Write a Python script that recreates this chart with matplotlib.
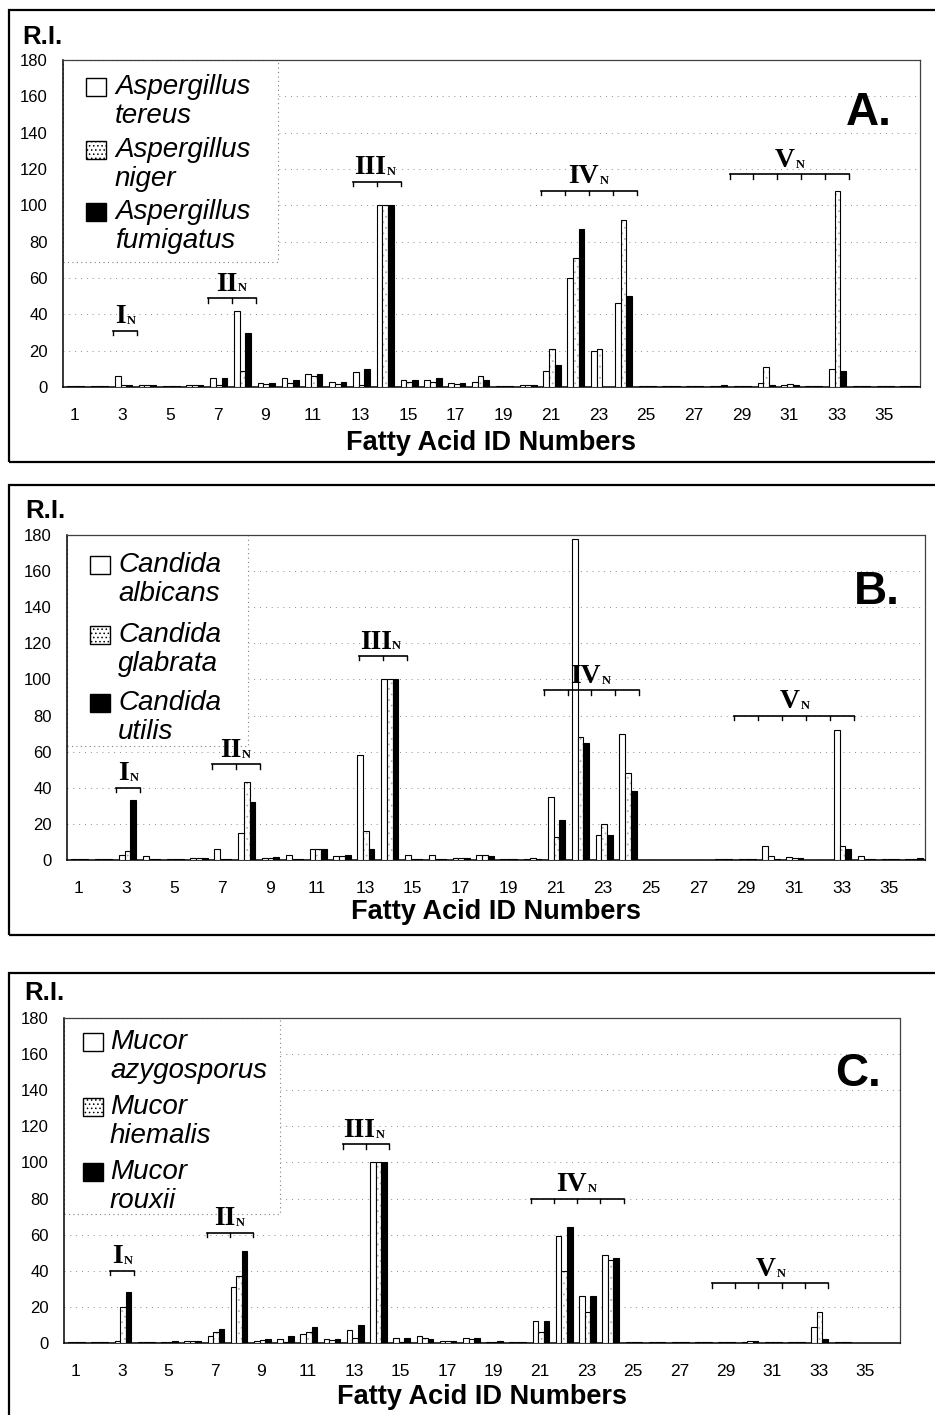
import numpy as np
import matplotlib
matplotlib.use("Agg")
import matplotlib.pyplot as plt
from matplotlib.patches import Rectangle

plt.rcParams["font.family"] = ["Liberation Sans", "DejaVu Sans"]
plt.rcParams["hatch.linewidth"] = 0.6

# ---------------------------------------
# Data (relative intensity per fatty acid ID)
# ---------------------------------------
fa_ids = list(range(1, 37))
xtick_labels = [str(i) for i in range(1, 36, 2)]
y_ticks = list(range(0, 181, 20))

a_names = ["Aspergillus\ntereus", "Aspergillus\nniger", "Aspergillus\nfumigatus"]
a_white = [0.3, 0.3, 6, 1, 0.5, 1, 5, 42, 2, 5, 7, 3, 8, 100, 4, 4, 2, 3, 0.5, 1,
           9, 60, 20, 46, 0.3, 0.3, 0.3, 0.5, 0.3, 2, 1, 0.3, 10, 0.5, 0.5, 0.5]
a_dotted = [0.3, 0.3, 1, 1, 0.5, 1, 1, 9, 1.5, 2, 6, 1.5, 1, 100, 3, 3, 1.5, 6, 0.5, 1,
            21, 71, 21, 92, 0.3, 0.3, 0.3, 0.3, 0.3, 11, 1.5, 0.3, 108, 0.5, 0.5, 0.5]
a_black = [0.3, 0.3, 1, 1, 0.5, 1, 5, 30, 2, 4, 7, 3, 10, 100, 4, 5, 2, 4, 0.5, 1,
           12, 87, 0, 50, 0.3, 0.3, 0.3, 1, 0.3, 1, 1, 0.3, 9, 0.5, 0.5, 0.5]

b_names = ["Candida\nalbicans", "Candida\nglabrata", "Candida\nutilis"]
b_white = [0.3, 0.5, 3, 2, 0.5, 1, 6, 15, 1, 3, 6, 2, 58, 100, 2.5, 3, 1, 3, 0.3, 0.5,
           35, 178, 14, 70, 0.2, 0.2, 0.2, 0.5, 0.3, 8, 1.5, 0.2, 72, 2, 0.3, 0.5]
b_dotted = [0.3, 0.5, 5, 0.5, 0.5, 1, 0.3, 43, 1, 0.5, 6, 2, 16, 100, 0.3, 0.5, 1, 3, 0.3, 1,
            13, 68, 20, 48, 0.2, 0.2, 0.2, 0.5, 0.3, 2, 1, 0.2, 8, 0.5, 0.3, 0.5]
b_black = [0.3, 0.5, 33, 0.5, 0.5, 1, 0.3, 32, 1.5, 0.5, 6, 2.5, 6, 100, 0.3, 0.5, 1, 2, 0.3, 0.5,
           22, 65, 14, 38, 0.2, 0.2, 0.2, 0.5, 0.3, 0.3, 1, 0.2, 6, 0.5, 0.3, 1]

c_names = ["Mucor\nazygosporus", "Mucor\nhiemalis", "Mucor\nrouxii"]
c_white = [0.5, 0.3, 1, 0.5, 0.5, 1, 4, 31, 1, 2, 5, 2, 7, 100, 3, 4, 1, 2.5, 0.5, 0.5,
           12, 59, 26, 49, 0.3, 0.3, 0.3, 0.3, 0.3, 0.5, 0.5, 0.3, 9, 0.3, 0.2, 0.2]
c_dotted = [0.5, 0.3, 20, 0.5, 0.5, 1, 6, 37, 1.5, 0.3, 6, 1.5, 3, 100, 0.3, 3, 1, 2, 0.5, 0.5,
            6, 40, 17, 46, 0.3, 0.3, 0.3, 0.3, 0.3, 1, 0.7, 0.3, 17, 0.3, 0.2, 0.2]
c_black = [0.5, 0.3, 28, 0.5, 1, 1, 8, 51, 2, 4, 9, 2, 10, 100, 2.5, 2, 1, 3, 1, 0.5,
           12, 64, 26, 47, 0.3, 0.3, 0.3, 0.7, 0.3, 1, 0.7, 0.3, 2, 0.5, 0.2, 0.2]

# fatty acid groups: (first id edge, last id edge, bracket height, numeral)
a_groups = [(2.6, 3.6, 31, "I"), (6.6, 8.6, 49, "II"), (12.7, 14.7, 113, "III"),
            (20.6, 24.6, 108, "IV"), (28.5, 33.5, 117, "V")]
b_groups = [(2.55, 3.55, 40, "I"), (6.6, 8.6, 53, "II"), (12.75, 14.75, 113, "III"),
            (20.5, 24.5, 94, "IV"), (28.5, 33.5, 80, "V")]
c_groups = [(2.5, 3.5, 40, "I"), (6.65, 8.65, 61, "II"), (12.5, 14.5, 110, "III"),
            (20.6, 24.6, 80, "IV"), (28.4, 33.4, 33, "V")]

# ---------------------------------------
# Layout helpers (pixel based)
# ---------------------------------------
W, H = 935, 1415
fig = plt.figure(figsize=(W / 100, H / 100), dpi=100)


def fx(px):
    return px / W


def fy(py):
    return 1 - py / H


panels = [
    dict(rect=(63, 60, 920, 387), box=(9, 10, 462), data=(a_white, a_dotted, a_black),
         names=a_names, groups=a_groups, letter="A.", letter_pos=(846, 113),
         ri=(22, 37), xlab_y=443, leg=dict(frame=(63, 60, 278, 262), px=86, tx=115,
                                           ys=(87, 150, 212))),
    dict(rect=(67, 535, 925, 860), box=(9, 485, 935), data=(b_white, b_dotted, b_black),
         names=b_names, groups=b_groups, letter="B.", letter_pos=(854, 592),
         ri=(25, 511), xlab_y=912, leg=dict(frame=(67, 535, 248, 746), px=90, tx=118,
                                            ys=(565, 635, 703))),
    dict(rect=(64, 1018, 900, 1343), box=(9, 973, 1425), data=(c_white, c_dotted, c_black),
         names=c_names, groups=c_groups, letter="C.", letter_pos=(835, 1074),
         ri=(24, 993), xlab_y=1397, leg=dict(frame=(64, 1018, 280, 1214), px=83, tx=110,
                                             ys=(1042, 1107, 1172))),
]

x = np.array(fa_ids, dtype=float)
bw = 0.24
shift = 0.04

for p in panels:
    l, t, r, b = p["rect"]
    ax = fig.add_axes([fx(l), fy(b), fx(r) - fx(l), fy(t) - fy(b)])
    white, dotted, black = p["data"]

    ax.bar(x - bw + shift, white, width=bw, color="white", edgecolor="black", linewidth=0.8, zorder=3)
    ax.bar(x + shift, dotted, width=bw, color="white", edgecolor="0.7", hatch="...",
           linewidth=0, zorder=3)
    ax.bar(x + shift, dotted, width=bw, fill=False, edgecolor="black", linewidth=0.8, zorder=4)
    ax.bar(x + bw + shift, black, width=bw, color="black", edgecolor="black", linewidth=0.8, zorder=3)

    ax.set_xlim(0.5, 36.5)
    ax.set_ylim(0, 180)
    ax.set_yticks(y_ticks)
    ax.set_xticks(range(1, 36, 2))
    ax.set_xticklabels(xtick_labels)
    ax.tick_params(axis="y", length=0, pad=11, labelsize=12)
    ax.tick_params(axis="x", length=0, pad=15, labelsize=12.5)

    for yv in y_ticks[1:-1]:
        ax.axhline(yv, color="0.55", linestyle=(0, (1, 5)), linewidth=0.7, zorder=1)

    for side in ["left", "bottom"]:
        ax.spines[side].set_linewidth(1.1)
    for side in ["top", "right"]:
        ax.spines[side].set_linestyle((0, (2, 1)))
        ax.spines[side].set_linewidth(0.9)
        ax.spines[side].set_color("0.25")

    # legend frame inside the axes, under bars and brackets
    lg = p["leg"]
    fl, ft, fr, fb = lg["frame"]
    ax.add_patch(Rectangle((fx(fl), fy(fb)), fx(fr) - fx(fl), fy(ft) - fy(fb),
                           transform=fig.transFigure, facecolor="white", clip_on=False,
                           edgecolor="0.5", linestyle=(0, (1, 3)), linewidth=0.8, zorder=2))

    # group brackets with roman numerals
    for x0, x1, yb, lab in p["groups"]:
        ax.plot([x0, x1], [yb, yb], color="black", linewidth=1.2, zorder=5)
        n = int(round(x1 - x0))
        for k in range(n + 1):
            ax.plot([x0 + k, x0 + k], [yb, yb - 2.5], color="black", linewidth=1.0, zorder=5)
        xm = (x0 + x1) / 2 - 0.12 - 0.06 * len(lab)
        tx = ax.text(xm, yb + 0.8, lab, ha="center", va="bottom", fontsize=20,
                     fontweight="bold", family="Liberation Serif", zorder=6)
        ax.annotate("N", xy=(1, 0), xycoords=tx, xytext=(0.5, 1.5), textcoords="offset points",
                    ha="left", va="bottom", fontsize=9, fontweight="bold",
                    family="Liberation Serif")

    # legend entries
    styles = [dict(facecolor="white", edgecolor="black", hatch=None),
              dict(facecolor="white", edgecolor="black", hatch="...."),
              dict(facecolor="black", edgecolor="black", hatch=None)]
    for name, yc, st in zip(p["names"], lg["ys"], styles):
        fig.patches.append(Rectangle((fx(lg["px"]), fy(yc + 9)), fx(20), 18 / H,
                                     transform=fig.transFigure, linewidth=1.0, **st))
        fig.text(fx(lg["tx"]), fy(yc - 13), name, ha="left", va="top", fontsize=20,
                 style="italic", linespacing=1.15)

    # panel labels
    fig.text(fx(p["ri"][0]), fy(p["ri"][1]), "R.I.", ha="left", va="center",
             fontsize=18.5, fontweight="bold")
    fig.text(fx(p["letter_pos"][0]), fy(p["letter_pos"][1]), p["letter"], ha="left",
             va="center", fontsize=33, fontweight="bold")
    fig.text(fx((l + r) / 2), fy(p["xlab_y"]), "Fatty Acid ID Numbers", ha="center",
             va="center", fontsize=19.5, fontweight="bold")

    # outer panel box
    bl, bt, bb = p["box"]
    fig.patches.append(Rectangle((fx(bl), fy(bb)), fx(W + 20) - fx(bl), fy(bt) - fy(bb),
                                 transform=fig.transFigure, fill=False,
                                 edgecolor="black", linewidth=1.6))

fig.savefig("out.png", dpi=100, facecolor="white")
